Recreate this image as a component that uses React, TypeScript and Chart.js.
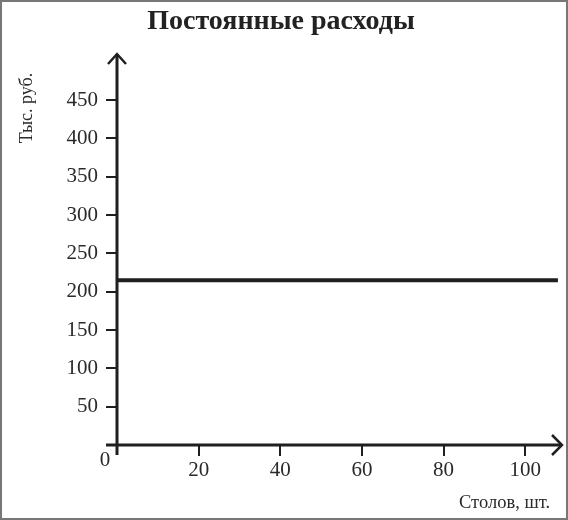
import { Chart, registerables } from 'chart.js';
Chart.register(...registerables);
import React, { useEffect, useRef } from 'react';

const title = 'Постоянные расходы';
const yTitle = 'Тыс. руб.';
const xTitle = 'Столов, шт.';

const units = [0, 108];
const fixedCosts = [215, 215];
const xTicks = [20, 40, 60, 80, 100];
const yTicks = [50, 100, 150, 200, 250, 300, 350, 400, 450];
const xMax = 109;
const yMax = 510;

const ink = '#1f1f1f';
const serif = '"Liberation Serif", "DejaVu Serif", serif';

// axes with arrows, origin label and axis titles
const axesPlugin = {
    id: 'axes',
    afterDraw(chart: any) {
        const { ctx, chartArea, scales } = chart;
        const x0 = scales.x.getPixelForValue(0);
        const y0 = scales.y.getPixelForValue(0);
        const { top, right } = chartArea;
        ctx.save();
        ctx.strokeStyle = ink;
        ctx.lineWidth = 3;
        ctx.beginPath();
        ctx.moveTo(x0 - 11, y0);
        ctx.lineTo(right, y0);
        ctx.moveTo(x0, y0 + 10);
        ctx.lineTo(x0, top);
        ctx.stroke();

        ctx.lineWidth = 2.5;
        ctx.beginPath();
        ctx.moveTo(x0 - 9, top + 10);
        ctx.lineTo(x0, top);
        ctx.lineTo(x0 + 9, top + 10);
        ctx.moveTo(right - 10, y0 - 10);
        ctx.lineTo(right, y0);
        ctx.lineTo(right - 10, y0 + 10);
        ctx.stroke();

        ctx.fillStyle = '#2a2a2a';
        ctx.font = `21px ${serif}`;
        ctx.textAlign = 'center';
        ctx.textBaseline = 'middle';
        ctx.fillText('0', x0 - 12, y0 + 15);

        ctx.font = `18.5px ${serif}`;
        ctx.textAlign = 'right';
        ctx.textBaseline = 'alphabetic';
        ctx.fillText(xTitle, 550, 508);

        ctx.font = `18px ${serif}`;
        ctx.translate(32, 108);
        ctx.rotate(-Math.PI / 2);
        ctx.textAlign = 'center';
        ctx.fillText(yTitle, 0, 0);
        ctx.restore();
    },
};

const App: React.FC = () => {
    const ref = useRef<HTMLCanvasElement>(null);

    useEffect(() => {
        document.body.style.margin = '0';
        if (!ref.current) return;
        const chart = new Chart(ref.current, {
            type: 'line',
            data: {
                datasets: [
                    {
                        data: units.map((u, i) => ({ x: u, y: fixedCosts[i] })),
                        borderColor: ink,
                        borderWidth: 4,
                        pointRadius: 0,
                        fill: false,
                    },
                ],
            },
            options: {
                responsive: false,
                animation: false,
                layout: { padding: { top: 0, right: 6, left: 0, bottom: 0 } },
                plugins: {
                    legend: { display: false },
                    tooltip: { enabled: false },
                    title: {
                        display: true,
                        text: title,
                        color: '#222',
                        font: { family: serif, size: 28, weight: 'bold' },
                        padding: { top: 5, bottom: 15.4 },
                    },
                },
                scales: {
                    x: {
                        type: 'linear',
                        min: 0,
                        max: xMax,
                        afterBuildTicks: (s: any) => { s.ticks = xTicks.map((v) => ({ value: v })); },
                        afterFit: (s: any) => { s.height = 75; },
                        border: { display: false },
                        grid: { drawOnChartArea: false, drawTicks: true, tickLength: 11, lineWidth: 2, color: ink },
                        ticks: { color: '#2a2a2a', padding: 2, font: { family: serif, size: 21 } },
                    },
                    y: {
                        min: 0,
                        max: yMax,
                        afterBuildTicks: (s: any) => { s.ticks = yTicks.map((v) => ({ value: v })); },
                        afterFit: (s: any) => { s.width = 117; },
                        border: { display: false },
                        grid: { drawOnChartArea: false, drawTicks: true, tickLength: 11, lineWidth: 2, color: ink },
                        ticks: { color: '#2a2a2a', padding: 8, font: { family: serif, size: 21 } },
                    },
                },
            },
            plugins: [axesPlugin],
        });

        return () => {
            chart.destroy();
        };
    }, []);

    return (
        <div style={{ position: 'relative', width: 568, height: 520, background: '#fff' }}>
            <canvas ref={ref} width={568} height={520}></canvas>
            <div style={{ position: 'absolute', inset: 0, border: '2px solid #777', pointerEvents: 'none' }}></div>
        </div>
    );
};

export default App;
